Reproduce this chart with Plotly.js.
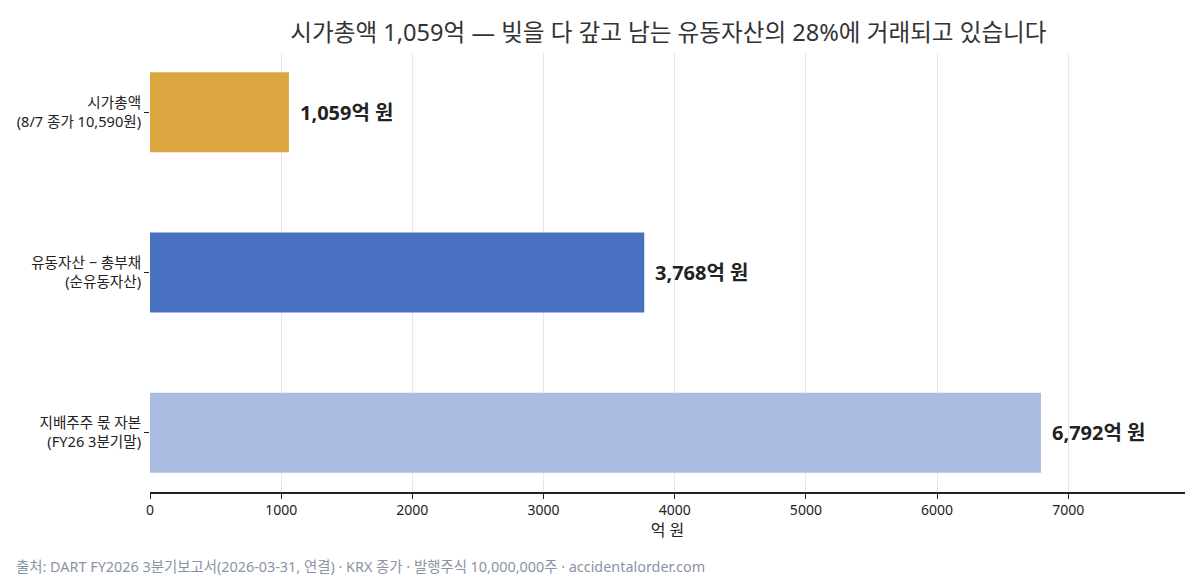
<!DOCTYPE html>
<html>
<head>
<meta charset="utf-8">
<script src="https://cdn.plot.ly/plotly-3.0.1.min.js"></script>
<style>html,body{margin:0;padding:0;background:#fff;}#chart{width:1200px;height:580px;}</style>
</head>
<body>
<div id="chart"></div>
<script>
const categories = ["시가총액<br>(8/7 종가 10,590원)", "유동자산 − 총부채<br>(순유동자산)", "지배주주 몫 자본<br>(FY26 3분기말)"];
const values = [1059, 3768, 6792];
const valueLabels = ["1,059억 원", "3,768억 원", "6,792억 원"];
const colors = ["#DBA542", "#4872C1", "#A8BCE0"];

const FONT = "Noto Sans, Noto Sans CJK KR, sans-serif";

const trace = {
  type: "bar",
  orientation: "h",
  y: categories,
  x: values,
  marker: { color: colors },
  width: 0.5,
  hoverinfo: "none"
};

const annotations = values.map((v, i) => ({
  x: v, y: categories[i], xref: "x", yref: "y",
  text: "<b>" + valueLabels[i] + "</b>",
  showarrow: false, xanchor: "left", xshift: 9,
  font: { size: 20, color: "#222", family: FONT }
}));
annotations.push({
  xref: "paper", yref: "paper", x: -0.131, y: -0.1686,
  xanchor: "left", yanchor: "middle", showarrow: false,
  text: "출처: DART FY2026 3분기보고서(2026-03-31, 연결) · KRX 종가 · 발행주식 10,000,000주 · accidentalorder.com",
  font: { size: 14.4, color: "#8a94a6", family: FONT }
});

const layout = {
  width: 1200, height: 580,
  margin: { l: 150, r: 15, t: 53, b: 88 },
  paper_bgcolor: "#fff", plot_bgcolor: "#fff",
  font: { family: FONT, size: 14, color: "#222" },
  title: { text: "시가총액 1,059억 — 빚을 다 갚고 남는 유동자산의 28%에 거래되고 있습니다", x: 0.557, xanchor: "center", y: 0.957, font: { size: 23.6, color: "#333", family: FONT } },
  xaxis: {
    range: [0, 7890], dtick: 1000, tick0: 0,
    showgrid: true, gridcolor: "#e8e8e8", zeroline: false,
    showline: true, linecolor: "#222", linewidth: 1.5,
    ticks: "outside", ticklen: 5, tickcolor: "#222",
    tickfont: { size: 14, color: "#222" },
    title: { text: "억 원", font: { size: 16, color: "#222" }, standoff: 6 }
  },
  yaxis: {
    autorange: false, range: [2.37, -0.37],
    showgrid: false, zeroline: false, showline: false,
    ticks: "outside", ticklen: 5, tickcolor: "#222",
    tickfont: { size: 14.6, color: "#222" }
  },
  annotations: annotations,
  showlegend: false,
  bargap: 0.5
};

Plotly.newPlot("chart", [trace], layout, { displayModeBar: false, staticPlot: true });
</script>
</body>
</html>
